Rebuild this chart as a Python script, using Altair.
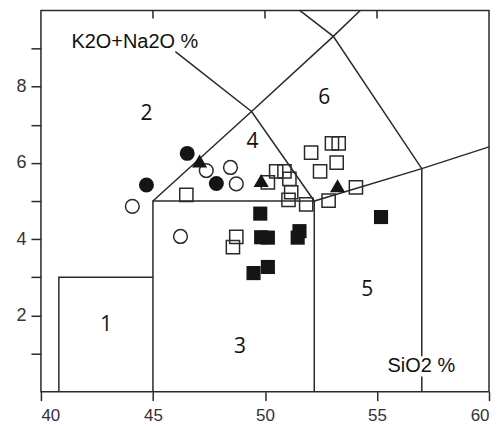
import altair as alt
import pandas as pd

# ---- data ----
filled_circle_x = [44.71, 46.53, 47.83]
filled_circle_y = [5.42, 6.25, 5.46]

open_circle_x = [44.08, 47.38, 48.46, 48.72, 46.23]
open_circle_y = [4.86, 5.80, 5.88, 5.45, 4.07]

triangle_x = [47.08, 49.83, 53.24]
triangle_y = [6.05, 5.54, 5.40]

open_square_x = [46.49, 48.72, 48.57, 50.13, 50.50, 50.87, 51.09, 51.17, 51.05,
                 51.84, 52.06, 52.46, 52.84, 52.99, 53.29, 53.20, 54.06]
open_square_y = [5.16, 4.06, 3.79, 5.49, 5.78, 5.78, 5.58, 5.23, 5.03,
                 4.91, 6.27, 5.78, 5.01, 6.51, 6.51, 6.01, 5.36]

filled_square_x = [49.79, 49.83, 50.13, 51.54, 51.46, 50.13, 49.49, 55.18]
filled_square_y = [4.67, 4.05, 4.04, 4.21, 4.04, 3.27, 3.11, 4.58]

# field boundaries (polylines)
boundary_x = [
    [40.8, 40.8, 45.0],
    [45.0, 45.0, 52.2, 52.2],
    [45.0, 49.4, 53.05, 54.25],
    [46.0, 49.4, 52.2, 57.0, 60.0],
    [51.55, 53.05, 57.0, 57.0],
    [57.0, 57.0],
]
boundary_y = [
    [0.0, 3.0, 3.0],
    [0.0, 5.0, 5.0, 0.0],
    [5.0, 7.35, 9.32, 10.0],
    [8.92, 7.35, 5.0, 5.85, 6.42],
    [10.0, 9.32, 5.85, 0.93],
    [0.40, 0.0],
]

region_labels = ["1", "2", "3", "4", "5", "6"]
region_x = [42.92, 44.71, 48.89, 49.44, 54.57, 52.65]
region_y = [1.75, 7.28, 1.18, 6.54, 2.66, 7.71]

axis_text = ["K2O+Na2O %", "SiO2 %"]
axis_text_x = [41.36, 55.47]
axis_text_y = [9.16, 0.66]

x_ticks = [40, 45, 50, 55, 60]
top_ticks = [45, 50, 55]
y_ticks = [1, 2, 3, 4, 5, 6, 7, 8, 9]

# ---- build ----
rows = []
for i, (xs, ys) in enumerate(zip(boundary_x, boundary_y)):
    for j, (a, b) in enumerate(zip(xs, ys)):
        rows.append({"seg": i, "ord": j, "x": a, "y": b})
lines_df = pd.DataFrame(rows)

INK = "#2a2a2a"

xscale = alt.Scale(domain=[40, 60], nice=False, zero=False)
yscale = alt.Scale(domain=[0, 10], nice=False, zero=False)

xaxis = alt.Axis(values=x_ticks, title=None, grid=False, domain=False,
                 tickSize=9, tickWidth=1.5, tickColor=INK,
                 labelFontSize=17, labelFont="Liberation Sans", labelColor="#333",
                 labelPadding=7)
yaxis = alt.Axis(values=y_ticks, title=None, grid=False, domain=False,
                 tickSize=10, tickWidth=1.5, tickColor=INK,
                 labelFontSize=18, labelFont="Liberation Sans", labelColor="#333",
                 labelPadding=5,
                 labelExpr="datum.value % 2 == 0 ? datum.label : ''")

lines = alt.Chart(lines_df).mark_line(color=INK, strokeWidth=1.5).encode(
    x=alt.X("x:Q", scale=xscale, axis=xaxis),
    y=alt.Y("y:Q", scale=yscale, axis=yaxis),
    detail="seg:N",
    order="ord:Q",
)

top_tick_layer = alt.Chart(pd.DataFrame({"x": top_ticks})).mark_rule(
    color=INK, strokeWidth=1.5).encode(
    x=alt.X("x:Q", scale=xscale),
    y=alt.value(0), y2=alt.value(8),
)

def pts(xs, ys, shape, filled, size):
    df = pd.DataFrame({"x": xs, "y": ys})
    if filled:
        m = alt.Chart(df).mark_point(shape=shape, filled=True, fill="#151515",
                                     opacity=1, size=size, strokeWidth=0)
    else:
        m = alt.Chart(df).mark_point(shape=shape, filled=False, stroke=INK,
                                     strokeWidth=1.5, opacity=1, size=size)
    return m.encode(x=alt.X("x:Q", scale=xscale), y=alt.Y("y:Q", scale=yscale))

open_sq = pts(open_square_x, open_square_y, "square", False, 175)
filled_sq = pts(filled_square_x, filled_square_y, "square", True, 200)
open_ci = pts(open_circle_x, open_circle_y, "circle", False, 190)
filled_ci = pts(filled_circle_x, filled_circle_y, "circle", True, 225)
tri = pts(triangle_x, triangle_y, "triangle-up", True, 230)

regions = alt.Chart(pd.DataFrame({"t": region_labels, "x": region_x, "y": region_y})).mark_text(
    font="Open Sans", fontSize=21, color="#111", align="center", baseline="middle").encode(
    x=alt.X("x:Q", scale=xscale), y=alt.Y("y:Q", scale=yscale), text="t:N")

axis_labels = alt.Chart(pd.DataFrame({"t": axis_text, "x": axis_text_x, "y": axis_text_y})).mark_text(
    font="Liberation Sans", fontSize=20, color="#111", align="left", baseline="middle").encode(
    x=alt.X("x:Q", scale=xscale), y=alt.Y("y:Q", scale=yscale), text="t:N")

chart = alt.layer(
    lines, top_tick_layer, open_sq, filled_sq, open_ci, filled_ci, tri, regions, axis_labels
).properties(
    width=449, height=382,
    autosize=alt.AutoSizeParams(type="none"),
    padding={"left": 33, "top": 2, "right": 2, "bottom": 32},
).configure_view(
    stroke=INK, strokeWidth=1.5
)

chart.save("out.html", embed_options={"renderer": "svg", "actions": False})
